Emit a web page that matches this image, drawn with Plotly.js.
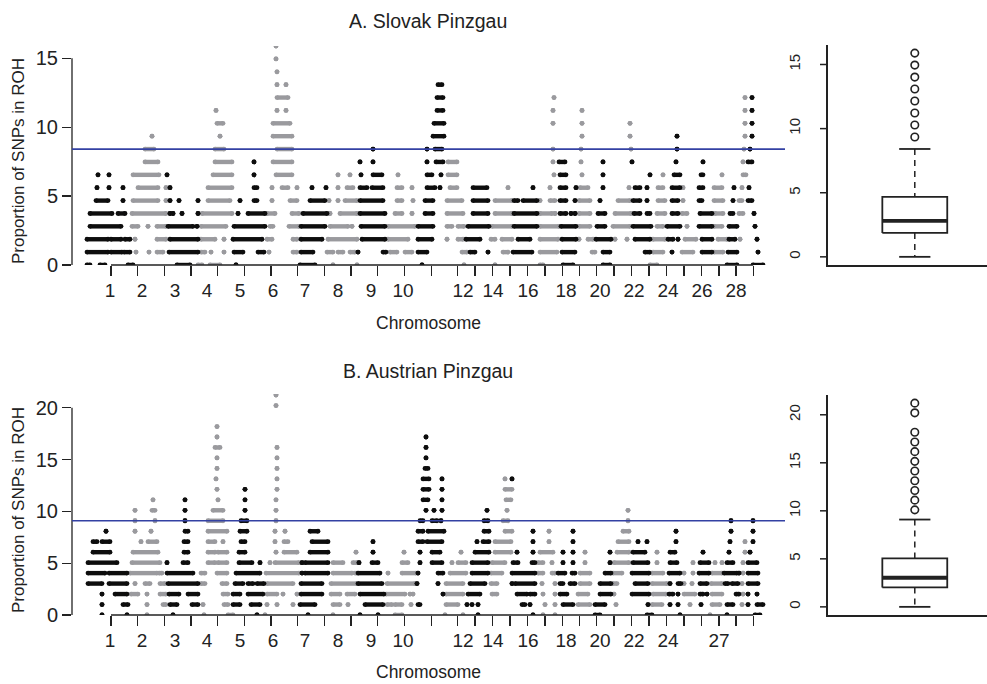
<!DOCTYPE html>
<html><head><meta charset="utf-8">
<script src="https://cdn.plot.ly/plotly-3.0.1.min.js"></script>
<style>html,body{margin:0;padding:0;background:#fff}#chart{width:987px;height:684px}</style>
</head><body><div id="chart"></div>
<script>
// ---------------- DATA ----------------
// Proportion of SNPs in ROH is quantised: one step = one animal.
const unitA = 100 / 107;   // Slovak Pinzgau
const unitB = 100 / 99;    // Austrian Pinzgau
const thresholdLevelA = 9;
const thresholdLevelB = 9;

// genome position (plot units) where each chromosome starts (chromosomes 1..29)
const chrStartA = [86,131,167,200,233,266,300,328,358,387,417,445,465,490,513,538,560,577,594,612,632,652,666,681,698,713,728,738,747];
const chrStartB = [88,129,167,200,232,265,300,330,358,385,417,445,467,490,512,537,556,577,592,612,630,650,668,682,698,710,723,740,747];

// runs of SNPs at each level (index = number of animals); "from-to" or single position
const runsA = [
"87-90 100-105 128-133 177-190 198-202 210-220 236 300-315 333 357 422 464 495 540-543 563-573 603-610 650-657 727-737 753-763",
"87-108 111-122 124-130 136 149 157-163 169-198 201-205 211 224 234-243 258-264 269 293-297 301-313 327-333 338-343 350-355 358 383-386 390-397 405-412 418-427 462-467 470-475 488 503-508 513-532 540-557 562-575 592-595 603-610 645-650 653-663 672 682-693 702-712 714-723 728-737 758",
"87-108 111-121 125-130 135 157-166 170-198 201-215 224 233-262 267-272 293-297 301-322 328-357 362-385 388-408 418-432 447 458-463 466-480 491-495 502-512 518-530 540-558 562-576 579 588-593 596-611 615 627 635-650 653-665 668-673 678 685-696 702-712 718-727 729-735 740 757",
"90-121 132-138 148 157-166 168-193 197 201-226 234-265 270-273 289-299 301-325 330-348 352 361-385 388-415 418-433 447-452 458-464 468-489 492-512 514-537 540-559 561-576 579-590 597-605 613-630 633-651 657-663 667-680 687 699-712 714-722 729-737 755",
"90-112 118-125 132-166 170 173 182 198 202-232 238 248-265 267-275 292-299 303-327 330 340-357 360-385 395-402 412 425-433 447-463 473-488 495-512 514-537 540-552 555 560-566 571 575 579-590 598-605 615-631 634-640 647-650 657-665 672-678 682-687 700-712 715-723 730-733 739-743 754",
"96-108 123 133-158 166 170 179 198 208-230 240 254-257 272 290-297 310-325 329 338 345-357 360-383 397-402 413 425-433 447-462 473-488 495-512 514-518 523-537 540 550-555 560-566 575 579-590 600 618-630 633-640 647 658-665 672-678 683 699-702 714-723 733 739-742 748-752",
"97 109 123 138-158 166 170 208-232 254-257 272 282-288 297 312 326 338 347-353 360-367 372-383 397-402 412 427-435 440 450-457 473-487 508 533 550 560-566 576 580-588 603 629 635-640 647 658-663 672-680 683 699-703 714-722 734 742 749",
"98 109 133-159 167 213-232 254 276-292 338 350 361 373-382 398 427-432 441 448-457 554 560-566 582 603 650 663 674-680 701-703 722 743-746",
"145-158 215-232 254 273-292 360 373 427 436-443 448-457 553 559-565 581 603 632 676 703 743 748-752",
"145-154 215-224 277-292 373 427 435-442 553 581 631 677 744 750",
"152 220 273-292 433-444 582 630 677 745 752",
"217-223 273-290 434-444 553 582 630 745 752",
"216 277 286 437-443 553 582 745 752",
"277-288 437-443 554 745 752",
"277 286 438-442",
"277",
"276",
"276"
];

const runsB = [
"102 127 147 173 204 228-233 257 265 308 333 360 378 395-402 445 463 478 533 543 555 595-600 647-652 680 710 727 755-760",
"102 123-128 147 163-166 170-177 192-198 203 224-228 233-240 251-260 267 277 293 300-315 333-340 348 365-383 387-392 395-402 411 418-420 446-458 467 472 478 522-525 530 545 555 563-573 578-590 595-605 616 648 652-662 670 678 690 701 712-720 727-733 742 748 757-763",
"102 115-127 131-138 147 160-166 169-179 188-198 223-228 233-240 248-263 267-277 283 297 301-322 331-340 347-355 360-384 386-405 410 413 443 446-463 468-480 492-497 517-527 530-535 543 555 560-567 578-588 600-611 614 632-649 653-666 669-673 678 684-695 700-703 707 712-722 736-739 743 748 757",
"88-102 109-127 135 145-150 160-165 168-198 201-205 222-227 235-243 248-253 257-264 267-293 301-322 331-357 358-382 387-415 417 438 446-463 470-485 491-497 512 515-535 542 555 560-563 570-575 580-590 600-611 613-617 635-648 652-667 670 678-681 684 692 700-707 711-722 725-728 732-738 742 748-758",
"88-105 109-127 130-157 159-162 167-193 201-205 217-227 236-260 266-299 302 305-328 333-352 355-357 358-380 388 402-416 418 438-443 450-466 472-488 491-502 512-535 538-543 552-555 558-565 572-575 580-590 605-611 613-622 632-649 652-663 669-680 684 693 699-709 712-722 724-737 739 743 748-758",
"88-117 132-160 167 183-188 208-215 218-227 239-252 260 270 275-299 302 305-328 333-343 353-357 359 372-378 402-408 420 432-442 452 458-466 472-488 492-505 513-518 532-535 538-543 552 563 573 585 610 614-629 633-648 657 670-677 693 700-709 715 722 727-733 743 748-757",
"93-110 133-158 184-188 208-215 218-227 239-245 276 284-297 310-328 356 373 404 420 432-440 461 475-489 495-511 517 533 540-553 563 573 585 610 617-629 633-645 657 670-675 703 729 745 750",
"93-97 102-110 141 148-157 184-188 208-215 223 241-245 275 284-288 312-328 373 418-423 427-442 477 483-489 495-511 533 549 573 618-629 638 647 676 730 745 753",
"106 135 151 185-188 208-227 240-247 275 285 310-318 418-423 428-444 484-489 505-512 533 549 573 623-629 676 731 753",
"135 155 185 208-223 241-247 276 420-423 432-437 441 484-488 503-508 628 731 753",
"135 152-155 185 213-223 245 276 426 434 442 487 507 628",
"153 185 218 245 276 423-428 442 506-511",
"217 245 277 423-429 442 505-512",
"216 277 423-429 442 505 512",
"217 277 425-428",
"217 277 426",
"215-220 277 426",
"217 426",
"217",
"",
"276",
"276"
];

// x-axis tick marks and chromosome labels
const tickPos = [111,137.7,164.3,191,217.7,244.3,271,297.7,324.3,351,377.7,404.3,431.7,457.7,475,492.3,510,527.7,545,562.3,579.3,596.7,614,631.7,649,666.7,684,701.7,719,736,753.3];
const labelPosA = [110,142,175,207,240,273,305,338,371,403,463,493,528,566,600,634,668,702,736];
const labelTextA = ["1","2","3","4","5","6","7","8","9","10","12","14","16","18","20","22","24","26","28"];
const labelPosB = [110,142,175,207,240,273,305,338,371,403,463,493,528,566,600,634,668,719];
const labelTextB = ["1","2","3","4","5","6","7","8","9","10","12","14","16","18","20","22","24","27"];

// box plots (in animals): lower whisker, Q1, median, Q3, upper whisker
const boxStatsA = [0, 2, 3, 5, 9];
const outliersA = [10, 11, 12, 13, 14, 15, 16, 17];
const boxStatsB = [0, 2, 3, 5, 9];
const outliersB = [10, 11, 12, 13, 14, 15, 16, 17, 18, 20, 21];
const boxTicksA = [0, 5, 10, 15];
const boxTicksB = [0, 5, 10, 15, 20];

// ---------------- DRAWING ----------------
const W = 987, H = 684;
const px = v => v / W, py = v => 1 - v / H;
const BLACK = '#0d0d0d', GRAY = '#9a9a9e', BLUE = '#3341a3', AXC = '#222';
const FONT = 'Liberation Sans, Arial, sans-serif';

function chrIndex(x, starts) {
  let c = 0;
  while (c + 1 < starts.length && x >= starts[c + 1]) c++;
  return c;
}

function manhattan(runs, starts, unit, xa, ya) {
  const xs = [[], []], ys = [[], []];
  runs.forEach((row, k) => {
    if (!row) return;
    row.trim().split(/\s+/).forEach(tok => {
      const parts = tok.split('-').map(Number);
      const a = parts[0], b = parts.length > 1 ? parts[1] : parts[0];
      const p = chrIndex((a + b) / 2, starts) % 2;
      xs[p].push(a, b, null);
      ys[p].push(k * unit, k * unit, null);
    });
  });
  return [1, 0].map(p => ({
    type: 'scatter', mode: 'lines+markers', x: xs[p], y: ys[p], xaxis: xa, yaxis: ya,
    line: {color: p ? GRAY : BLACK, width: 4.4},
    marker: {color: p ? GRAY : BLACK, size: 4.8},
    hoverinfo: 'skip', showlegend: false, cliponaxis: true
  }));
}

function labelCarrier(pos, xa, ya) {
  return {type: 'scatter', mode: 'markers', x: pos, y: pos.map(() => null), xaxis: xa, yaxis: ya, hoverinfo: 'skip', showlegend: false};
}

function boxplot(stats, outl, unit, xa, ya) {
  const [lo, q1, med, q3, hi] = stats.map(v => v * unit);
  const c = 1, hw = 0.187, cw = 0.09;
  const base = {type: 'scatter', mode: 'lines', xaxis: xa, yaxis: ya, hoverinfo: 'skip', showlegend: false, cliponaxis: false};
  return [
    Object.assign({}, base, {x: [c, c, null, c, c], y: [hi, q3, null, q1, lo], line: {color: AXC, width: 1.5, dash: '6px,5px'}}),
    Object.assign({}, base, {x: [c - cw, c + cw, null, c - cw, c + cw], y: [hi, hi, null, lo, lo], line: {color: AXC, width: 1.8}}),
    Object.assign({}, base, {x: [c - hw, c + hw, c + hw, c - hw, c - hw], y: [q1, q1, q3, q3, q1], fill: 'toself', fillcolor: '#fff', line: {color: AXC, width: 1.8}}),
    Object.assign({}, base, {x: [c - hw, c + hw], y: [med, med], line: {color: AXC, width: 3.8}}),
    {type: 'scatter', mode: 'markers', xaxis: xa, yaxis: ya, x: outl.map(() => c), y: outl.map(v => v * unit),
     marker: {symbol: 'circle-open', size: 7.5, color: AXC, line: {width: 1.6, color: AXC}}, hoverinfo: 'skip', showlegend: false, cliponaxis: false}
  ];
}

const traces = [].concat(
  manhattan(runsA, chrStartA, unitA, 'x', 'y'),
  manhattan(runsB, chrStartB, unitB, 'x2', 'y2'),
  [labelCarrier(labelPosA, 'x3', 'y'), labelCarrier(labelPosB, 'x4', 'y2')],
  boxplot(boxStatsA, outliersA, unitA, 'x5', 'y5'),
  boxplot(boxStatsB, outliersB, unitB, 'x6', 'y6')
);

const mDom = [px(72), px(785)];
const boxDom = [px(828), 1];
const boxWidthPx = W - 828;
const yTickFont = {family: FONT, size: 20, color: AXC};
const xTickFont = {family: FONT, size: 19, color: AXC};
const xTicks = (anchor) => ({domain: mDom, range: [72, 785], anchor: anchor, tickvals: tickPos, ticks: 'outside', ticklen: 10, tickwidth: 1.3, tickcolor: AXC,
  showticklabels: false, showline: false, showgrid: false, zeroline: false, fixedrange: true});
const xLabels = (over, anchor, pos, txt) => ({domain: mDom, range: [72, 785], overlaying: over, anchor: anchor, tickvals: pos, ticktext: txt,
  ticks: 'outside', ticklen: 8, tickcolor: 'rgba(0,0,0,0)', tickfont: xTickFont, showticklabels: true, showline: false, showgrid: false, zeroline: false, fixedrange: true});
const yMan = (dom, rng, vals, anchor) => ({domain: dom, range: rng, anchor: anchor, tickvals: vals, ticks: 'outside', ticklen: 9, tickwidth: 1.3, tickcolor: AXC,
  tickfont: yTickFont, showline: false, showgrid: false, zeroline: false, fixedrange: true});
// box y axes: invisible long ticks push the rotated labels out; visible ticks are drawn as shapes
const yBox = (dom, rng, vals, anchor) => ({domain: dom, range: rng, anchor: anchor, tickvals: vals, ticks: 'outside', ticklen: 20, tickcolor: 'rgba(0,0,0,0)',
  tickangle: -90, tickfont: {family: FONT, size: 15, color: AXC},
  showline: true, linewidth: 1.8, linecolor: AXC, showgrid: false, zeroline: false, fixedrange: true});
const xBox = (anchor) => ({domain: boxDom, range: [0.5, 1.416], anchor: anchor, showline: true, linewidth: 1.8, linecolor: AXC,
  showticklabels: false, ticks: '', showgrid: false, zeroline: false, fixedrange: true});

function lineShape(o) { return Object.assign({type: 'line', layer: 'above', line: {color: AXC, width: 1.3}}, o); }
function boxTickShapes(vals, xa, ya) {
  return vals.map(v => ({type: 'line', layer: 'above', xref: xa + ' domain', x0: -8 / boxWidthPx, x1: 0, yref: ya, y0: v, y1: v, line: {color: AXC, width: 1.5}}));
}

const layout = {
  width: W, height: H, margin: {l: 0, r: 0, t: 0, b: 0}, paper_bgcolor: '#fff', plot_bgcolor: 'rgba(0,0,0,0)', showlegend: false,
  xaxis: xTicks('y'), xaxis3: xLabels('x', 'y', labelPosA, labelTextA),
  yaxis: yMan([py(265), py(46)], [0, 15.89], [0, 5, 10, 15], 'x'),
  xaxis2: xTicks('y2'), xaxis4: xLabels('x2', 'y2', labelPosB, labelTextB),
  yaxis2: yMan([py(615), py(394)], [0, 21.32], [0, 5, 10, 15, 20], 'x2'),
  xaxis5: xBox('y5'), yaxis5: yBox([py(265), py(45)], [-0.636, 16.52], boxTicksA, 'x5'),
  xaxis6: xBox('y6'), yaxis6: yBox([py(615), py(395)], [-0.848, 22.06], boxTicksB, 'x6'),
  shapes: [
    lineShape({xref: 'x domain', x0: 0, x1: 0, yref: 'y', y0: 0, y1: 15}),
    lineShape({xref: 'x', x0: tickPos[0], x1: tickPos[tickPos.length - 1], yref: 'y domain', y0: 0, y1: 0}),
    lineShape({xref: 'x2 domain', x0: 0, x1: 0, yref: 'y2', y0: 0, y1: 20}),
    lineShape({xref: 'x2', x0: tickPos[0], x1: tickPos[tickPos.length - 1], yref: 'y2 domain', y0: 0, y1: 0}),
    {type: 'line', layer: 'above', xref: 'x domain', x0: 0, x1: 1, yref: 'y', y0: thresholdLevelA * unitA, y1: thresholdLevelA * unitA, line: {color: BLUE, width: 1.7}},
    {type: 'line', layer: 'above', xref: 'x2 domain', x0: 0, x1: 1, yref: 'y2', y0: thresholdLevelB * unitB, y1: thresholdLevelB * unitB, line: {color: BLUE, width: 1.7}}
  ].concat(boxTickShapes(boxTicksA, 'x5', 'y5'), boxTickShapes(boxTicksB, 'x6', 'y6')),
  annotations: [
    {text: 'A. Slovak Pinzgau', x: px(428), y: py(21), xref: 'paper', yref: 'paper', showarrow: false, xanchor: 'center', yanchor: 'middle', font: {family: FONT, size: 19.5, color: AXC}},
    {text: 'B. Austrian Pinzgau', x: px(428), y: py(371), xref: 'paper', yref: 'paper', showarrow: false, xanchor: 'center', yanchor: 'middle', font: {family: FONT, size: 19.5, color: AXC}},
    {text: 'Chromosome', x: px(428), y: py(323), xref: 'paper', yref: 'paper', showarrow: false, xanchor: 'center', yanchor: 'middle', font: {family: FONT, size: 17.5, color: AXC}},
    {text: 'Chromosome', x: px(428), y: py(672), xref: 'paper', yref: 'paper', showarrow: false, xanchor: 'center', yanchor: 'middle', font: {family: FONT, size: 17.5, color: AXC}},
    {text: 'Proportion of SNPs in ROH', x: px(18), y: py(161), xref: 'paper', yref: 'paper', showarrow: false, textangle: -90, xanchor: 'center', yanchor: 'middle', font: {family: FONT, size: 17, color: AXC}},
    {text: 'Proportion of SNPs in ROH', x: px(18), y: py(510), xref: 'paper', yref: 'paper', showarrow: false, textangle: -90, xanchor: 'center', yanchor: 'middle', font: {family: FONT, size: 17, color: AXC}}
  ]
};

Plotly.newPlot('chart', traces, layout, {staticPlot: true, displayModeBar: false});
</script>
</body></html>
